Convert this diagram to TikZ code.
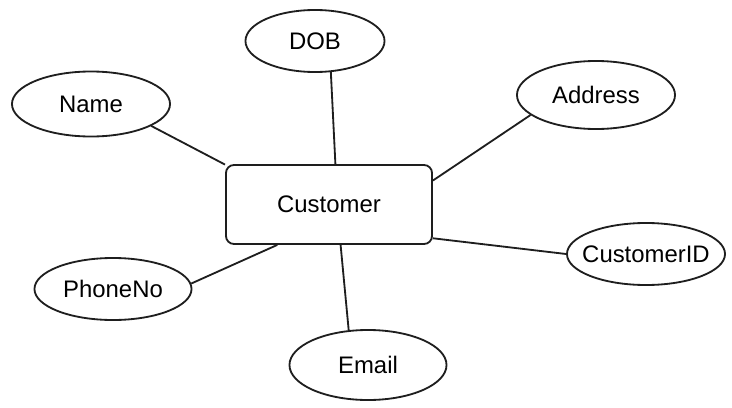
\documentclass[tikz,border=0pt]{standalone}
\usepackage{fontspec}
\setmainfont{Liberation Sans}
\usetikzlibrary{shapes.geometric}
\definecolor{ink}{HTML}{1E1E1E}

\begin{document}
\begin{tikzpicture}[x=0.025cm, y=-0.025cm, entity/.style={draw=ink, rectangle, rounded corners=0.2cm, line width=1.3pt, minimum width=5.15cm, minimum height=1.975cm, inner sep=0pt, font=\fontsize{17}{20}\selectfont}, attr/.style={draw=ink, ellipse, line width=1.3pt, minimum width=3.95cm, minimum height=1.6cm, inner sep=0pt, font=\fontsize{17}{20}\selectfont}, link/.style={draw=ink, line width=1.3pt}]
    \useasboundingbox (0,0) rectangle (732,408);
    % entity
    \node[entity] (customer) at (329,204.5) {Customer};
    % attributes
    \node[attr, minimum width=3.475cm, minimum height=1.55cm] (dob) at (315,41) {DOB};
    \node[attr, minimum height=1.625cm] (name) at (91,104) {Name};
    \node[attr, minimum height=1.7cm] (address) at (596,95) {Address};
    \node[attr, minimum height=1.55cm, inner xsep=-0.45cm] (customerid) at (646,254) {CustomerID};
    \node[attr, minimum width=3.925cm, minimum height=1.55cm] (phoneno) at (113,289) {PhoneNo};
    \node[attr, minimum width=3.925cm, minimum height=1.75cm] (email) at (368,365) {Email};
    % links
    \draw[link] (dob.-63) -- (customer.81);
    \draw[link] (name.-20) -- (customer.159);
    \draw[link] (address.197) -- (customer.13);
    \draw[link] (customerid.180) -- (customer.-18);
    \draw[link] (phoneno.4) -- (customer.218);
    \draw[link] (email.119) -- (customer.-74);
\end{tikzpicture}
\end{document}
